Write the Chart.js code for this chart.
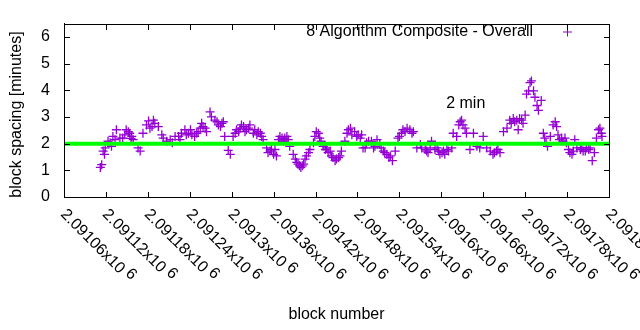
<!DOCTYPE html>
<html>
<head>
<meta charset="utf-8">
<script src="https://cdn.jsdelivr.net/npm/chart.js@4.4.0/dist/chart.umd.min.js"></script>
<style>
  html, body { margin: 0; padding: 0; background: #fff; }
</style>
</head>
<body>
<canvas id="chartSpacing" width="640" height="330"></canvas>
<script>
var blocks = [
  2091112, 2091114, 2091116, 2091119, 2091123, 2091128, 2091130, 2091135, 2091140, 2091144,
  2091147, 2091152, 2091154, 2091157, 2091159, 2091166, 2091169, 2091173, 2091178, 2091183,
  2091188, 2091190, 2091195, 2091200, 2091202, 2091207, 2091212, 2091219, 2091224, 2091228,
  2091233, 2091238, 2091243, 2091247, 2091250, 2091255, 2091259, 2091264, 2091269, 2091271,
  2091276, 2091281, 2091286, 2091290, 2091295, 2091298, 2091302, 2091307, 2091312, 2091317,
  2091321, 2091326, 2091331, 2091336, 2091341, 2091345, 2091350, 2091355, 2091360, 2091362,
  2091367, 2091372, 2091376, 2091381, 2091383, 2091388, 2091391, 2091395, 2091399, 2091403,
  2091405, 2091410, 2091412, 2091417, 2091419, 2091424, 2091426, 2091431, 2091436, 2091441,
  2091445, 2091448, 2091453, 2091457, 2091462, 2091467, 2091472, 2091479, 2091484, 2091486,
  2091488, 2091491, 2091496, 2091503, 2091508, 2091512, 2091517, 2091522, 2091527, 2091530,
  2091534, 2091538, 2091543, 2091548, 2091555, 2091560, 2091565, 2091570, 2091577, 2091581,
  2091586, 2091591, 2091596, 2091601, 2091605, 2091610, 2091615, 2091617, 2091622, 2091627,
  2091631, 2091636, 2091641, 2091646, 2091651, 2091655, 2091660, 2091665, 2091670, 2091674,
  2091679, 2091684, 2091689, 2091694, 2091698, 2091703, 2091708, 2091710, 2091715, 2091720,
  2091722, 2091725, 2091727, 2091729, 2091732, 2091734, 2091737, 2091739, 2091743, 2091746,
  2091748, 2091752, 2091756, 2091760, 2091763, 2091767, 2091772, 2091777, 2091782, 2091787,
  2091791, 2091794, 2091799, 2091803, 2091808, 2091813, 2091816, 2091819, 2091822, 2091825,
  2091829, 2091830
];
var spacing = [
  1.11, 1.21, 1.72, 1.84, 2.09, 1.90, 2.27, 2.52, 2.21, 2.21,
  2.33, 2.45, 2.39, 2.27, 2.15, 1.84, 1.72, 2.39, 2.70, 2.58,
  2.88, 2.76, 2.64, 2.33, 2.21, 2.09, 2.15, 2.27, 2.27, 2.39,
  2.52, 2.39, 2.33, 2.27, 2.39, 2.58, 2.64, 2.45, 3.19, 3.00,
  2.88, 2.70, 2.76, 2.27, 1.75, 1.60, 2.27, 2.52, 2.58, 2.64,
  2.52, 2.70, 2.39, 2.33, 2.39, 2.15, 1.84, 1.72, 1.60, 1.78,
  2.15, 2.21, 2.21, 2.15, 1.90, 1.60, 1.42, 1.23, 1.11, 1.23,
  1.42, 1.66, 1.78, 2.03, 2.27, 2.39, 2.21, 1.90, 1.84, 1.72,
  1.48, 1.36, 1.48, 1.72, 2.09, 2.52, 2.33, 2.27, 2.21, 2.33,
  1.84, 1.84, 2.09, 1.84, 2.15, 1.97, 1.72, 1.60, 1.54, 1.36,
  1.72, 2.21, 2.39, 2.45, 2.52, 2.45, 1.84, 1.97, 1.78, 1.66,
  2.09, 1.78, 1.72, 1.66, 1.60, 1.72, 1.84, 2.39, 2.27, 2.82,
  2.70, 2.39, 1.78, 2.39, 1.90, 1.84, 2.27, 1.84, 1.72, 1.60,
  1.72, 1.66, 2.45, 2.58, 2.88, 2.94, 2.88, 2.52, 2.88, 3.07,
  3.86, 3.98, 4.29, 4.35, 3.98, 3.74, 3.43, 3.25, 3.62, 2.39,
  2.21, 1.90, 2.27, 2.70, 2.82, 2.33, 2.21, 2.21, 1.78, 1.60,
  2.15, 1.84, 1.78, 1.72, 1.84, 1.84, 1.36, 1.66, 2.21, 2.52,
  2.39, 2.27
];
// second pass: extra points read inside the thicker clusters
var blocksExtra = [
  2091118, 2091126, 2091133, 2091149, 2091156, 2091181, 2091186, 2091215, 2091226, 2091235,
  2091241, 2091252, 2091257, 2091262, 2091279, 2091284, 2091288, 2091305, 2091310, 2091314,
  2091319, 2091324, 2091333, 2091338, 2091343, 2091352, 2091357, 2091364, 2091369, 2091374,
  2091379, 2091393, 2091397, 2091401, 2091407, 2091421, 2091428, 2091434, 2091438, 2091443,
  2091450, 2091455, 2091465, 2091470, 2091476, 2091481, 2091493, 2091500, 2091505, 2091514,
  2091519, 2091525, 2091540, 2091545, 2091551, 2091558, 2091572, 2091579, 2091584, 2091594,
  2091598, 2091603, 2091608, 2091625, 2091629, 2091634, 2091676, 2091681, 2091700, 2091705,
  2091712, 2091717, 2091750, 2091765, 2091769, 2091774, 2091779, 2091784, 2091789, 2091801,
  2091806, 2091811, 2091827
];
var spacingExtra = [
  1.60, 2.03, 2.15, 2.52, 2.20, 2.85, 2.64, 2.03, 2.15, 2.33,
  2.52, 2.45, 2.76, 2.58, 2.82, 2.64, 2.82, 2.39, 2.45, 2.70,
  2.45, 2.58, 2.52, 2.45, 2.27, 1.66, 1.78, 1.54, 2.27, 2.09,
  2.27, 1.30, 1.17, 1.17, 1.54, 2.45, 2.09, 1.78, 1.66, 1.54,
  1.42, 1.54, 2.39, 2.58, 2.45, 2.33, 2.03, 2.09, 1.90, 1.84,
  1.66, 1.48, 2.27, 2.52, 2.58, 2.39, 1.84, 1.72, 1.84, 1.84,
  1.60, 1.72, 1.78, 2.70, 2.88, 2.58, 1.66, 1.78, 2.76, 2.82,
  2.94, 2.76, 2.03, 2.64, 2.15, 2.09, 2.03, 1.66, 1.72, 1.84,
  1.72, 1.78, 2.58
];
var targetLevel = 2;
var xTicks = [2091060, 2091120, 2091180, 2091240, 2091300, 2091360, 2091420,
              2091480, 2091540, 2091600, 2091660, 2091720, 2091780, 2091840];
var yTicks = [0, 1, 2, 3, 4, 5, 6];
var seriesName = '8 Algorithm Composite - Overall';
var targetLabel = '2 min';
var yTitle = 'block spacing [minutes]';

var xMin = xTicks[0], xMax = xTicks[xTicks.length - 1];
var purple = '#9400d3';
var FONT = 'Liberation Sans, Arial, sans-serif';
Chart.defaults.font.family = FONT;
Chart.defaults.font.size = 16;
Chart.defaults.color = '#000';

// gnuplot style frame, inward ticks, rotated tick labels, key and label
var gnuplotLook = {
  id: 'gnuplotLook',
  afterDraw: function(chart) {
    var ctx = chart.ctx, a = chart.chartArea;
    var xs = chart.scales.x, ys = chart.scales.y;
    var L = Math.round(a.left), R = Math.round(a.right);
    var T = Math.round(a.top), B = Math.round(a.bottom);
    ctx.save();
    ctx.fillStyle = '#000';

    // x tick labels, rotated down to the right
    xTicks.forEach(function(v) {
      var px = xs.getPixelForValue(v);
      var txt = parseFloat((v / 1e6).toPrecision(6)).toString() + 'x10';
      ctx.save();
      ctx.translate(px - 1, B + 15);
      ctx.rotate(Math.PI / 4);
      ctx.font = '16px ' + FONT;
      ctx.textAlign = 'left';
      ctx.textBaseline = 'middle';
      ctx.fillText(txt, 0, 0);
      var w = ctx.measureText(txt).width;
      ctx.fillText('6', w + 4, -4);
      ctx.restore();
    });

    // y axis title
    ctx.save();
    ctx.translate(17, (T + B) / 2 + 4);
    ctx.rotate(-Math.PI / 2);
    ctx.font = '16px ' + FONT;
    ctx.textAlign = 'center';
    ctx.textBaseline = 'middle';
    ctx.fillText(yTitle, 0, 0);
    ctx.restore();

    // key
    ctx.font = '16px ' + FONT;
    ctx.textAlign = 'right';
    ctx.textBaseline = 'middle';
    ctx.fillText(seriesName, 533, 32);
    ctx.strokeStyle = purple;
    ctx.lineWidth = 1;
    ctx.beginPath();
    ctx.moveTo(563, 32); ctx.lineTo(572, 32);
    ctx.moveTo(567.5, 27.5); ctx.lineTo(567.5, 36.5);
    ctx.stroke();

    // label
    ctx.textAlign = 'left';
    ctx.fillText(targetLabel, xs.getPixelForValue(2091607), ys.getPixelForValue(3.5));

    // frame
    ctx.fillStyle = '#000';
    ctx.fillRect(L, T, R - L + 1, 1);
    ctx.fillRect(L, B, R - L + 1, 1);
    ctx.fillRect(L, T, 1, B - T + 1);
    ctx.fillRect(R, T, 1, B - T + 1);
    // inward ticks on all four sides
    xTicks.forEach(function(v) {
      var px = Math.round(xs.getPixelForValue(v));
      ctx.fillRect(px, B - 5, 1, 5);
      ctx.fillRect(px, T + 1, 1, 5);
    });
    yTicks.forEach(function(v) {
      var py = Math.round(ys.getPixelForValue(v));
      ctx.fillRect(L + 1, py, 5, 1);
      ctx.fillRect(R - 5, py, 5, 1);
    });
    ctx.restore();
  }
};

var allBlocks = blocks.concat(blocksExtra);
var allSpacing = spacing.concat(spacingExtra);

var config = {
  type: 'scatter',
  data: {
    datasets: [{
      label: targetLabel,
      data: [{x: xMin, y: targetLevel}, {x: xMax, y: targetLevel}],
      showLine: true,
      borderColor: '#00ff00',
      borderWidth: 4,
      pointRadius: 0
    }, {
      label: seriesName,
      data: allBlocks.map(function(b, i) { return {x: b, y: allSpacing[i]}; }),
      pointStyle: 'cross',
      pointRadius: 4.5,
      borderWidth: 1.3,
      borderColor: purple,
      backgroundColor: purple
    }]
  },
  options: {
    responsive: false,
    animation: false,
    devicePixelRatio: 1,
    layout: { padding: { top: 19, right: 31, left: 0, bottom: 0 } },
    plugins: {
      legend: { display: false },
      tooltip: { enabled: false }
    },
    scales: {
      x: {
        type: 'linear',
        min: xMin,
        max: xMax,
        afterBuildTicks: function(s) { s.ticks = xTicks.map(function(v) { return {value: v}; }); },
        afterFit: function(s) { s.height = 133; },
        ticks: { display: false },
        grid: { display: false, drawTicks: false },
        border: { display: true, color: '#000', width: 1 },
        title: { display: true, text: 'block number', padding: { top: 0, bottom: 6 } }
      },
      y: {
        min: 0,
        max: 6.5,
        afterBuildTicks: function(s) { s.ticks = yTicks.map(function(v) { return {value: v}; }); },
        afterFit: function(s) { s.width = 64; },
        ticks: { padding: 14 },
        grid: { display: false, drawTicks: false },
        border: { display: true, color: '#000', width: 1 }
      }
    }
  },
  plugins: [gnuplotLook]
};

window.onload = function() {
  var ctx = document.getElementById('chartSpacing').getContext('2d');
  window.spacingChart = new Chart(ctx, config);
};
</script>
</body>
</html>
